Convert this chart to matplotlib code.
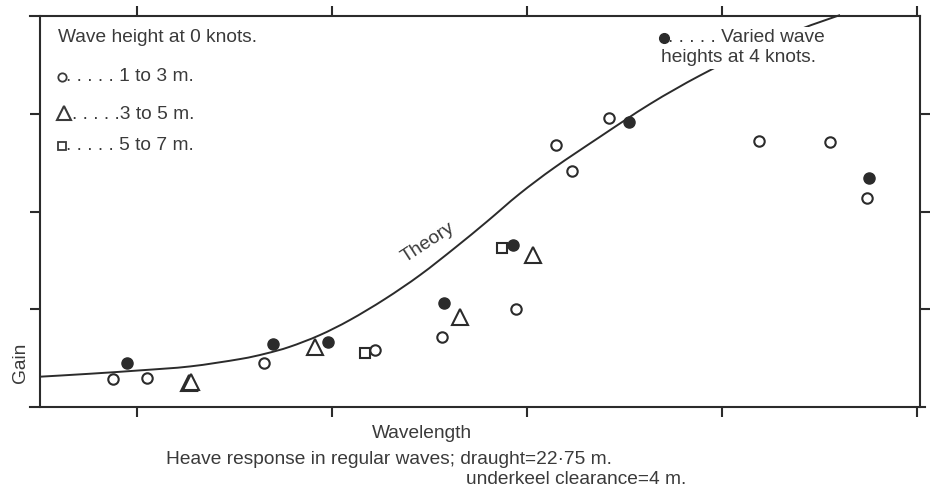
import matplotlib
matplotlib.use("Agg")
import matplotlib.pyplot as plt
from matplotlib.path import Path
from matplotlib.patches import PathPatch

# ---- data ----
theory_x = [0.00, 0.51, 1.03, 1.54, 2.05, 2.31, 2.56, 2.87, 3.18, 3.54, 3.90, 4.26,
            4.59, 4.92, 5.28, 5.74, 6.26, 6.77, 7.28, 7.79, 8.21]
theory_y = [0.31, 0.34, 0.375, 0.415, 0.49, 0.545, 0.615, 0.735, 0.89, 1.105, 1.35, 1.63,
            1.90, 2.18, 2.45, 2.76, 3.10, 3.39, 3.64, 3.86, 4.01]

h13_x = [0.75, 1.10, 2.30, 3.44, 4.13, 4.88, 5.29, 5.46, 5.84, 7.38, 8.11, 8.49]
h13_y = [0.29, 0.30, 0.45, 0.58, 0.72, 1.00, 2.68, 2.41, 2.96, 2.72, 2.71, 2.14]

h35_x = [1.53, 1.55, 2.82, 4.31, 5.06]
h35_y = [0.25, 0.26, 0.61, 0.92, 1.56]

h57_x = [3.33, 4.74]
h57_y = [0.55, 1.63]

k4_x = [0.89, 2.39, 2.96, 4.15, 4.85, 6.04, 8.51]
k4_y = [0.45, 0.64, 0.67, 1.06, 1.66, 2.92, 2.34]

x_ticks = [1, 3, 5, 7, 9]
y_ticks = [1, 2, 3]

ink = "#2b2b2b"
txt = "#3a3a3a"
plt.rcParams['font.family'] = ['Liberation Sans', 'DejaVu Sans']

fig = plt.figure(figsize=(9.33, 4.93), dpi=100)
ax = fig.add_axes([40/933, 86/493, 880/933, 391/493])
ax.set_xlim(0, 9.03)
ax.set_ylim(0, 4.0)

# smooth theory curve through the read points (Catmull-Rom drawn as Bezier)
pts = list(zip(theory_x, theory_y))
verts = [pts[0]]
codes = [Path.MOVETO]
n = len(pts)
for i in range(n - 1):
    p0 = pts[i - 1] if i > 0 else pts[i]
    p1 = pts[i]
    p2 = pts[i + 1]
    p3 = pts[i + 2] if i + 2 < n else pts[i + 1]
    c1 = (p1[0] + (p2[0] - p0[0]) / 6, p1[1] + (p2[1] - p0[1]) / 6)
    c2 = (p2[0] - (p3[0] - p1[0]) / 6, p2[1] - (p3[1] - p1[1]) / 6)
    verts += [c1, c2, p2]
    codes += [Path.CURVE4] * 3
ax.add_patch(PathPatch(Path(verts, codes), facecolor='none', edgecolor=ink,
                       lw=1.4, zorder=2, clip_on=False))

ax.plot(h13_x, h13_y, 'o', ms=7.5, mfc='white', mec=ink, mew=1.5, zorder=3)
ax.plot(h35_x, h35_y, '^', ms=11, mfc='white', mec=ink, mew=1.5, zorder=3)
ax.plot(h57_x, h57_y, 's', ms=7.5, mfc='white', mec=ink, mew=1.5, zorder=3)
ax.plot(k4_x, k4_y, 'o', ms=8, mfc=ink, mec=ink, mew=1, zorder=4)

# spines and ticks
for s in ax.spines.values():
    s.set_linewidth(1.5)
    s.set_color(ink)
ax.spines['bottom'].set_bounds(-0.1, 9.08)
ax.spines['top'].set_bounds(-0.1, 9.03)
ax.set_xticks(x_ticks)
ax.set_yticks(y_ticks)
ax.tick_params(axis='both', which='both', direction='out', length=7, width=1.5,
               color=ink, labelbottom=False, labelleft=False,
               top=True, right=True)

# legend-like annotations
tr = ax.transAxes
fs = 13.8
ax.text(0.0205, 0.944, "Wave height at 0 knots.", transform=tr, fontsize=fs,
        color=txt, ha='left', va='center')
ax.plot([0.025], [0.844], 'o', ms=6, mfc='white', mec=txt, mew=1.3,
        transform=tr, clip_on=False)
ax.text(0.030, 0.844, ". . . . . 1 to 3 m.", transform=tr, fontsize=fs,
        color=txt, ha='left', va='center')
ax.plot([0.027], [0.751], '^', ms=10, mfc='white', mec=txt, mew=1.5,
        transform=tr, clip_on=False)
ax.text(0.036, 0.749, ". . . . .3 to 5 m.", transform=tr, fontsize=fs,
        color=txt, ha='left', va='center')
ax.plot([0.025], [0.668], 's', ms=5.5, mfc='white', mec=txt, mew=1.3,
        transform=tr, clip_on=False)
ax.text(0.030, 0.668, ". . . . . 5 to 7 m.", transform=tr, fontsize=fs,
        color=txt, ha='left', va='center')

ax.text(0.714, 0.944, ". . . . . Varied wave", transform=tr, fontsize=fs,
        color=txt, ha='left', va='center', zorder=6,
        bbox=dict(facecolor='white', edgecolor='none', pad=1.5))
ax.plot([0.709], [0.944], 'o', ms=7, mfc=ink, mec=ink, transform=tr,
        clip_on=False, zorder=8)
ax.text(0.706, 0.893, "heights at 4 knots.", transform=tr, fontsize=fs,
        color=txt, ha='left', va='center', zorder=6,
        bbox=dict(facecolor='white', edgecolor='none', pad=2))

ax.text(3.98, 1.68, "Theory", fontsize=fs, color=txt, rotation=33,
        ha='center', va='center', rotation_mode='anchor')

# axis labels and caption
fig.text(20/933, 1 - 363/493, "Gain", rotation=90, fontsize=fs, color=txt,
         ha='center', va='center')
fig.text(422/933, 1 - 433/493, "Wavelength", fontsize=fs, color=txt,
         ha='center', va='center')
fig.text(166/933, 1 - 459/493, "Heave response in regular waves; draught=22·75 m.",
         fontsize=fs, color=txt, ha='left', va='center')
fig.text(466/933, 1 - 480/493, "underkeel clearance=4 m.",
         fontsize=fs, color=txt, ha='left', va='center')

fig.savefig("out.png", dpi=100, facecolor='white')
